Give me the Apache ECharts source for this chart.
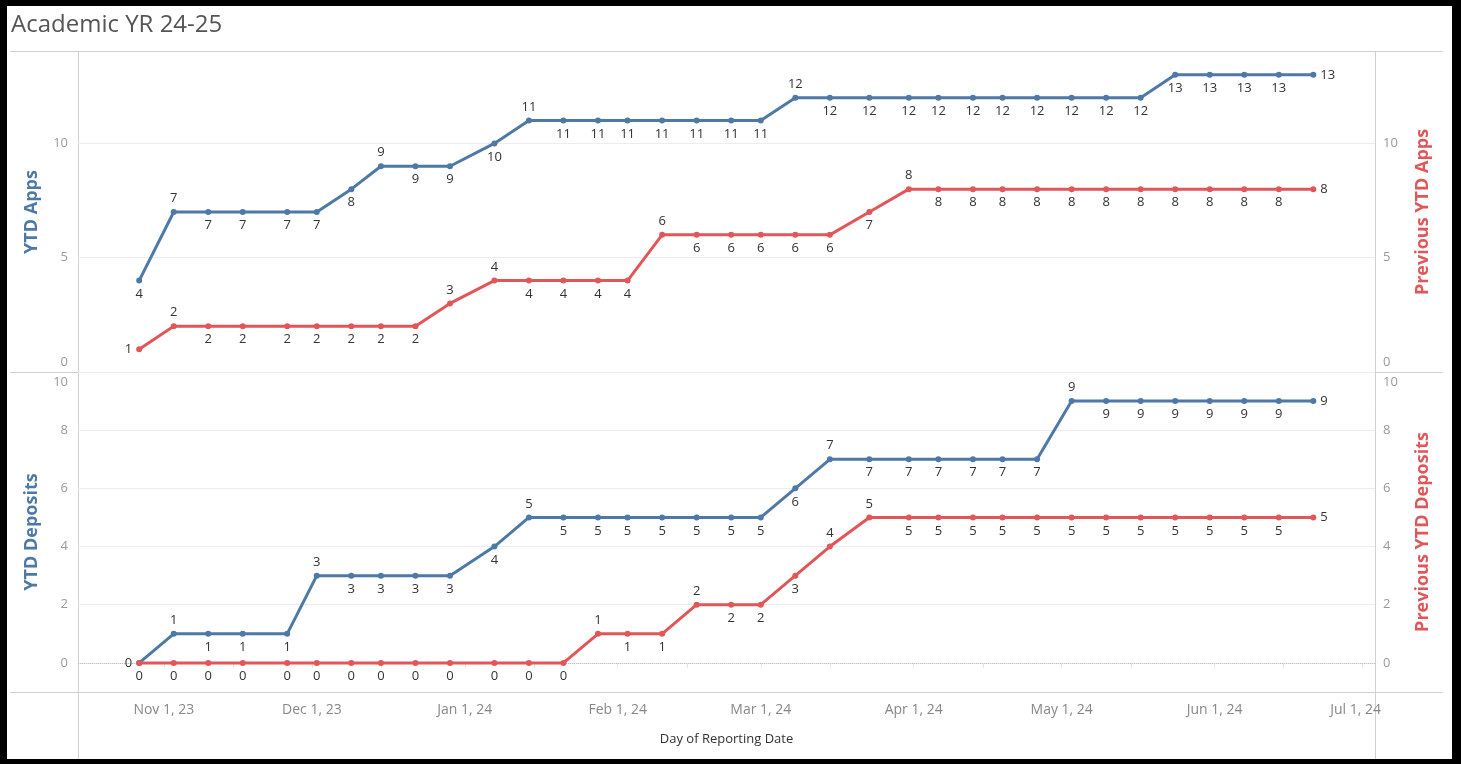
<!DOCTYPE html>
<html lang="en">
<head>
<meta charset="utf-8">
<title>Academic YR 24-25</title>
<script src="https://cdn.jsdelivr.net/npm/echarts@6.0.0/dist/echarts.min.js"></script>
<style>
    html, body { margin: 0; padding: 0; background: #fff; }
    #chart { position: absolute; left: 0; top: 0; width: 1461px; height: 764px; }
    /* black frame around the dashboard sheet */
    #frame {
        position: absolute; left: 0; top: 0; width: 1461px; height: 764px;
        box-sizing: border-box; border: solid #000; border-width: 6px 9px 5px 7px;
        pointer-events: none;
    }
</style>
</head>
<body>
<div id="chart"></div>
<div id="frame"></div>
<script>
// ---- data ----
const reportDates = [
    '2023-10-27', '2023-11-03', '2023-11-10', '2023-11-17', '2023-11-26',
    '2023-12-02', '2023-12-09', '2023-12-15', '2023-12-22', '2023-12-29',
    '2024-01-07', '2024-01-14', '2024-01-21', '2024-01-28', '2024-02-03',
    '2024-02-10', '2024-02-17', '2024-02-24', '2024-03-01', '2024-03-08',
    '2024-03-15', '2024-03-23', '2024-03-31', '2024-04-06', '2024-04-13',
    '2024-04-19', '2024-04-26', '2024-05-03', '2024-05-10', '2024-05-17',
    '2024-05-24', '2024-05-31', '2024-06-07', '2024-06-14', '2024-06-21'
];
const ytdApps         = [4, 7, 7, 7, 7, 7, 8, 9, 9, 9, 10, 11, 11, 11, 11, 11, 11, 11, 11, 12, 12, 12, 12, 12, 12, 12, 12, 12, 12, 12, 13, 13, 13, 13, 13];
const prevYtdApps     = [1, 2, 2, 2, 2, 2, 2, 2, 2, 3, 4, 4, 4, 4, 4, 6, 6, 6, 6, 6, 6, 7, 8, 8, 8, 8, 8, 8, 8, 8, 8, 8, 8, 8, 8];
const ytdDeposits     = [0, 1, 1, 1, 1, 3, 3, 3, 3, 3, 4, 5, 5, 5, 5, 5, 5, 5, 5, 6, 7, 7, 7, 7, 7, 7, 7, 9, 9, 9, 9, 9, 9, 9, 9];
const prevYtdDeposits = [0, 0, 0, 0, 0, 0, 0, 0, 0, 0, 0, 0, 0, 1, 1, 1, 2, 2, 2, 3, 4, 5, 5, 5, 5, 5, 5, 5, 5, 5, 5, 5, 5, 5, 5];

const monthLabels = ['2023-11-01', '2023-12-01', '2024-01-01', '2024-02-01', '2024-03-01', '2024-04-01', '2024-05-01', '2024-06-01', '2024-07-01'];
const midMonths   = ['2023-11-15', '2023-12-15', '2024-01-15', '2024-02-15', '2024-03-15', '2024-04-15', '2024-05-15', '2024-06-15'];
const appsTicks    = [0, 5, 10];
const depositTicks = [0, 2, 4, 6, 8, 10];

// which point labels sit above the line (the rest sit below)
const appsAbove        = [1, 7, 11, 19];
const prevAppsAbove    = [1, 9, 10, 15, 22];
const depositsAbove    = [1, 5, 11, 20, 27];
const prevDepositAbove = [13, 16, 20, 21];

const BLUE = '#4e79a7';
const RED = '#e15759';
const FONT = '"Open Sans", "Noto Sans", sans-serif';
const MONTHS = ['Jan', 'Feb', 'Mar', 'Apr', 'May', 'Jun', 'Jul', 'Aug', 'Sep', 'Oct', 'Nov', 'Dec'];
const DAY = 86400000;

const toTime = s => {
    const [y, m, d] = s.split('-').map(Number);
    return Date.UTC(y, m - 1, d);
};
const times = reportDates.map(toTime);
const monthTimes = monthLabels.map(toTime);
const axisStart = toTime('2023-11-01') - 17.4 * DAY;
const axisEnd = toTime('2024-07-01') + 2.5 * DAY;

const fmtDate = t => {
    const d = new Date(Math.round(t / DAY) * DAY);
    return `${MONTHS[d.getUTCMonth()]} ${d.getUTCDate()}, ${String(d.getUTCFullYear()).slice(2)}`;
};

/**
 * label position for one point
 */
function labelPos(i, above, firstSide, n) {
    if (i === n - 1) return 'right';
    if (i === 0 && firstSide) return firstSide;
    return above.includes(i) ? 'top' : 'bottom';
}

function lineSeries(name, values, color, xIdx, yIdx, above, firstSide) {
    return {
        name: name,
        type: 'line',
        xAxisIndex: xIdx,
        yAxisIndex: yIdx,
        data: values.map((v, i) => ({
            value: [times[i], v],
            label: { position: labelPos(i, above, firstSide, values.length) }
        })),
        symbol: 'circle',
        symbolSize: 6,
        showAllSymbol: true,
        lineStyle: { color: color, width: 3 },
        itemStyle: { color: color },
        label: { show: true, distance: 4, color: '#333', fontSize: 13, fontFamily: FONT },
        emphasis: { disabled: true }
    };
}

function valueAxis(gridIndex, position, name, color, min, max, ticks, edgeValue, edgePad) {
    return {
        type: 'value',
        gridIndex: gridIndex,
        position: position,
        min: min,
        max: max,
        name: name,
        nameLocation: 'middle',
        nameRotate: 90,
        nameGap: position === 'left' ? 37 : 39,
        nameTextStyle: { color: color, fontSize: 18, fontWeight: 'bold', fontFamily: FONT },
        axisLine: { show: false },
        axisTick: { show: false, customValues: ticks },
        axisLabel: {
            customValues: ticks,
            color: '#999',
            fontSize: 13,
            fontFamily: FONT,
            margin: position === 'left' ? 10 : 8,
            // edge labels are nudged inside their pane, like the original sheet
            formatter: v => (v === edgeValue ? `{edge|${v}}` : `${v}`),
            rich: { edge: { padding: edgePad, color: '#999', fontSize: 13, fontFamily: FONT } }
        },
        splitLine: { show: position === 'left', lineStyle: { color: '#ececec', width: 1 } }
    };
}

const chart = echarts.init(document.getElementById('chart'));

const sepStyle = { stroke: '#d0d0d0', lineWidth: 1 };
const hLine = y => ({ type: 'line', shape: { x1: 10, y1: y, x2: 1443, y2: y }, style: sepStyle, silent: true });
const vLine = x => ({ type: 'line', shape: { x1: x, y1: 52, x2: x, y2: 759 }, style: sepStyle, silent: true });

const option = {
    animation: false,
    backgroundColor: '#fff',
    textStyle: { fontFamily: FONT },
    graphic: [
        {
            type: 'text', left: 11, top: 13, silent: true,
            style: { text: 'Academic YR 24-25', fill: '#555', fontSize: 24, fontFamily: FONT }
        },
        hLine(51.5), hLine(372.5), hLine(692.5), vLine(78.5), vLine(1375.5)
    ],
    grid: [
        { left: 78, top: 52, width: 1297, height: 320, containLabel: false },
        { left: 78, top: 372, width: 1297, height: 320, containLabel: false }
    ],
    xAxis: [
        { type: 'value', gridIndex: 0, min: axisStart, max: axisEnd, show: false, splitLine: { show: false } },
        {
            type: 'value',
            gridIndex: 1,
            min: axisStart,
            max: axisEnd,
            axisLine: { show: false },
            axisTick: {
                show: true,
                length: 5,
                customValues: monthLabels.concat(midMonths).map(toTime).sort((a, b) => a - b),
                lineStyle: { color: '#e3e3e3' }
            },
            axisLabel: {
                customValues: monthTimes,
                // last month label is pulled left so it stays inside the pane
                formatter: v => (v === monthTimes[monthTimes.length - 1] ? `{last|${fmtDate(v)}}` : fmtDate(v)),
                rich: { last: { padding: [0, 14, 0, 0], color: '#888', fontSize: 14, fontFamily: FONT } },
                color: '#888',
                fontSize: 14,
                fontFamily: FONT,
                margin: 11
            },
            splitLine: { show: false },
            name: 'Day of Reporting Date',
            nameLocation: 'middle',
            nameGap: 41,
            nameTextStyle: { color: '#333', fontSize: 13, fontFamily: FONT }
        }
    ],
    yAxis: [
        valueAxis(0, 'left', 'YTD Apps', BLUE, 0, 14, appsTicks, 0, [0, 0, 20, 0]),
        valueAxis(0, 'right', 'Previous YTD Apps', RED, 0, 14, appsTicks, 0, [0, 0, 20, 0]),
        valueAxis(1, 'left', 'YTD Deposits', BLUE, -1, 10, depositTicks, 10, [20, 0, 0, 0]),
        valueAxis(1, 'right', 'Previous YTD Deposits', RED, -1, 10, depositTicks, 10, [20, 0, 0, 0])
    ],
    series: [
        lineSeries('YTD Apps', ytdApps, BLUE, 0, 0, appsAbove, null),
        lineSeries('Previous YTD Apps', prevYtdApps, RED, 0, 1, prevAppsAbove, 'left'),
        Object.assign(lineSeries('YTD Deposits', ytdDeposits, BLUE, 1, 2, depositsAbove, 'left'), {
            // dotted zero line of the lower pane
            markLine: {
                silent: true,
                z: 1,
                symbol: 'none',
                label: { show: false },
                lineStyle: { type: 'dotted', color: '#bbb', width: 1 },
                data: [{ yAxis: 0 }]
            }
        }),
        lineSeries('Previous YTD Deposits', prevYtdDeposits, RED, 1, 3, prevDepositAbove, null)
    ]
};

chart.setOption(option);
window.addEventListener('resize', () => chart.resize());
</script>
</body>
</html>
